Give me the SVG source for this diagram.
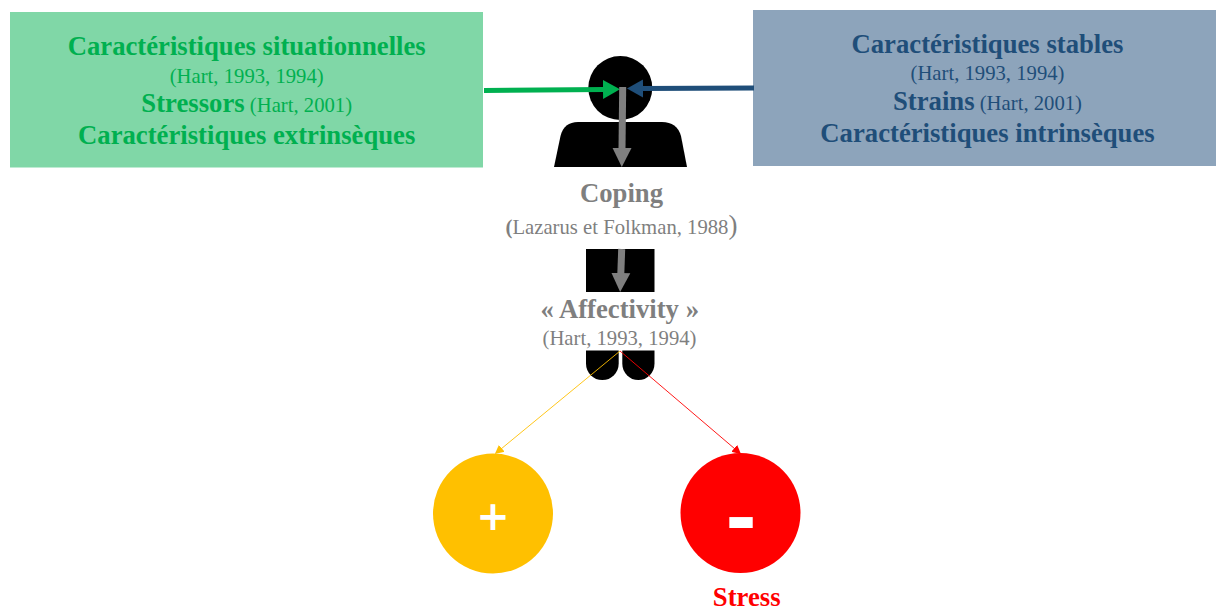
<svg xmlns="http://www.w3.org/2000/svg" width="1216" height="610" viewBox="0 0 1216 610">
<style>
text{font-family:"Liberation Serif","Times New Roman",serif;text-anchor:middle}
.b{font-weight:700;font-size:26.7px}
.s{font-size:20.700px}
.sb{font-size:26.700px;font-weight:700}
.green{fill:#00B050}.blue{fill:#1F4E79}.gray{fill:#7F7F7F}
.sign{font-family:"DejaVu Sans",sans-serif;font-weight:700;fill:#fff}
</style>
<defs>
<marker id="mg" markerUnits="userSpaceOnUse" markerWidth="18" markerHeight="20" refX="1" refY="10" orient="auto"><path d="M0 .5L17 10L0 19.5Z" fill="#00B050"/></marker>
<marker id="mb" markerUnits="userSpaceOnUse" markerWidth="18" markerHeight="20" refX="1" refY="10" orient="auto"><path d="M0 1L16 10L0 19Z" fill="#1F4E79"/></marker>
<marker id="mk" markerUnits="userSpaceOnUse" markerWidth="20" markerHeight="20" refX="1" refY="10" orient="auto"><path d="M0 .5L19 10L0 19.5Z" fill="#7F7F7F"/></marker>
<marker id="my" markerUnits="userSpaceOnUse" markerWidth="10" markerHeight="10" refX="1" refY="5" orient="auto"><path d="M0 .5L9 5L0 9.5Z" fill="#FFC000"/></marker>
<marker id="mr" markerUnits="userSpaceOnUse" markerWidth="10" markerHeight="10" refX="1" refY="5" orient="auto"><path d="M0 .5L9 5L0 9.5Z" fill="#FF0000"/></marker>
</defs>
<g id="person">
<circle cx="620.3" cy="88" r="32"/>
<path d="M554 167L560.500 136Q564 122 578 122H662Q677 122 681 136L687 167Z"/>
<rect x="586" y="249" width="68.500" height="43"/>
<path d="M586 350.500H618.700V363.500A16.350 16.500 0 0 1 586 363.500Z"/>
<path d="M622.300 350.500H654.500V363.500A16.100 16.500 0 0 1 622.300 363.500Z"/>
</g>
<g id="box-situationnelles">
<rect x="10" y="12" width="473" height="155.500" fill="#80D7A7"/>
<text x="246.700" y="55" class="b green">Caractéristiques situationnelles</text>
<text x="246.700" y="82.500" class="s green">(Hart, 1993, 1994)</text>
<text x="246.700" y="112" class="s green"><tspan class="sb">Stressors</tspan> (Hart, 2001)</text>
<text x="246.700" y="143.500" class="b green">Caractéristiques extrinsèques</text>
</g>
<g id="box-stables">
<rect x="753" y="10" width="463" height="156" fill="#8DA4BB"/>
<text x="987.500" y="52.500" class="b blue">Caractéristiques stables</text>
<text x="987.500" y="80" class="s blue">(Hart, 1993, 1994)</text>
<text x="987.500" y="110" class="s blue"><tspan class="sb">Strains</tspan> (Hart, 2001)</text>
<text x="987.500" y="141.500" class="b blue">Caractéristiques intrinsèques</text>
</g>
<g id="coping">
<text x="621.500" y="202" class="b gray">Coping</text>
<text x="621.500" y="234" class="s gray"><tspan font-weight="700">(</tspan>Lazarus et Folkman, 1988<tspan font-size="27px">)</tspan></text>
</g>
<g id="affectivity">
<text x="619.700" y="318" class="b gray">« Affectivity »</text>
<text x="619.500" y="345" class="s gray">(Hart, 1993, 1994)</text>
</g>
<g id="connectors" fill="none">
<path d="M484 90.500L604 89.500" stroke="#00B050" stroke-width="5" marker-end="url(#mg)"/>
<path d="M754 88L642 88.500" stroke="#1F4E79" stroke-width="5" marker-end="url(#mb)"/>
<path d="M622.700 87L622 149" stroke="#7F7F7F" stroke-width="7" marker-end="url(#mk)"/>
<path d="M621.700 249L620.800 274" stroke="#7F7F7F" stroke-width="7" marker-end="url(#mk)"/>
<path d="M620 351L501 449" stroke="#FFC000" stroke-width=".9" marker-end="url(#my)"/>
<path d="M620 351L735 449" stroke="#FF0000" stroke-width=".9" marker-end="url(#mr)"/>
</g>
<g id="plus">
<circle cx="493" cy="513.500" r="60" fill="#FFC000"/>
<text x="493" y="530" font-size="40" class="sign">+</text>
</g>
<g id="minus">
<circle cx="740.500" cy="513" r="60" fill="#FF0000"/>
<text x="741" y="545" font-size="76" class="sign">-</text>
</g>
<text x="746.700" y="605.500" font-size="26.700" font-weight="700" fill="#FF0000">Stress</text>
</svg>
